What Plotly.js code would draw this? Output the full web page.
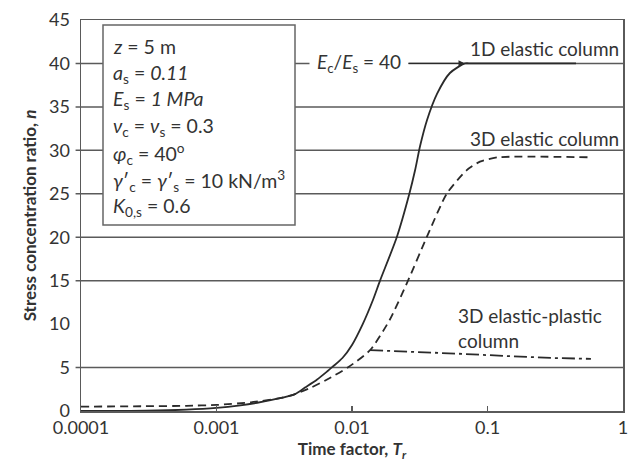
<!DOCTYPE html>
<html><head><meta charset="utf-8">
<script src="https://cdn.plot.ly/plotly-3.0.1.min.js"></script>
<style>html,body{margin:0;padding:0;background:#fff}</style>
</head><body><div id="chart" style="width:632px;height:468px"></div>
<script>
// 1D elastic column (solid)
const solidT = [0.0001, 0.0003, 0.0006, 0.001, 0.0015, 0.002, 0.003, 0.0038, 0.0045, 0.0055, 0.0065, 0.0072, 0.0085, 0.01, 0.012, 0.0143, 0.0161, 0.0214, 0.0265, 0.0292, 0.0318, 0.0358, 0.0424, 0.0528, 0.0682, 0.076, 0.45];
const solidN = [0.0, 0.03, 0.15, 0.35, 0.65, 0.95, 1.5, 1.95, 2.7, 3.6, 4.5, 5.1, 6.1, 7.6, 10.0, 12.8, 15, 20, 25, 27.7, 30.5, 33.5, 36.5, 38.9, 40, 40, 40];
// 3D elastic column (dashed)
const dashT = [0.0001, 0.0003, 0.0006, 0.001, 0.0018, 0.003, 0.0038, 0.005, 0.0065, 0.0093, 0.0136, 0.019, 0.0259, 0.0356, 0.05, 0.07, 0.088, 0.12, 0.57];
const dashN = [0.5, 0.55, 0.6, 0.7, 1.0, 1.5, 1.95, 2.7, 3.6, 5.0, 7.0, 10.5, 15, 20, 25, 27.7, 28.7, 29.2, 29.2];
// 3D elastic-plastic column (dash-dot)
const dotT = [0.0136, 0.03, 0.06, 0.15, 0.3, 0.58];
const dotN = [7.0, 6.8, 6.6, 6.3, 6.1, 6.0];

const xTickVals = [0.0001, 0.001, 0.01, 0.1, 1];
const xTickText = ['0.0001', '0.001', '0.01', '0.1', '1'];
const yTickVals = [0, 5, 10, 15, 20, 25, 30, 35, 40, 45];
const gridLevels = [5, 15, 20, 25, 30, 35, 40];

const boxLines = [
  '<i>z</i> = 5 m',
  '<i>a</i><sub>s</sub> = <i>0.11</i>',
  '<i>E</i><sub>s</sub> = <i>1 MPa</i>',
  '<i>ν</i><sub>c</sub> = <i>ν</i><sub>s</sub> = 0.3',
  '<i>φ</i><sub>c</sub> = 40<sup>o</sup>',
  '<i>γ</i>′<sub>c</sub> = <i>γ</i>′<sub>s</sub> = 10 kN/m<sup>3</sup>',
  '<i>K</i><sub>0,s</sub> = 0.6'
];

const FONT = 'Lato, "Open Sans", sans-serif';
const TXT = '#333';
const LINE = '#2a2a2a';
const GRID = '#5a5a5a';

const traces = [
  {x: solidT, y: solidN, mode: 'lines', line: {color: LINE, width: 1.8, shape: 'spline', smoothing: 0.7}, name: '1D'},
  {x: dashT, y: dashN, mode: 'lines', line: {color: LINE, width: 1.8, dash: '8px,5px', shape: 'spline', smoothing: 0.6}, name: '3D'},
  {x: dotT, y: dotN, mode: 'lines', line: {color: LINE, width: 1.8, dash: '13px,4px,3px,4px'}, name: '3D ep'}
];

const shapes = [];
gridLevels.forEach(v => shapes.push({type: 'line', xref: 'paper', yref: 'y', x0: -0.01, x1: 1, y0: v, y1: v, line: {color: GRID, width: 1.5}, layer: 'below'}));
// parameter box
const pxX = p => (p - 81) / 542;
const pxY = p => (411 - p) / 391;
shapes.push({type: 'rect', xref: 'paper', yref: 'paper', x0: pxX(103), x1: pxX(295), y0: pxY(225), y1: pxY(25), line: {color: '#666', width: 1.5}, fillcolor: '#fff', layer: 'below'});

const annotations = [];
boxLines.forEach((t, i) => annotations.push({xref: 'paper', yref: 'paper', x: pxX(111), y: pxY(47 + i * 26.7), xanchor: 'left', yanchor: 'middle', text: t, showarrow: false, font: {family: FONT, size: 19.5, color: TXT}}));

const idx40 = solidN.indexOf(40);
annotations.push({x: Math.log10(solidT[idx40]), y: solidN[idx40], xref: 'x', yref: 'y',
  text: '<i>E</i><sub>c</sub>/<i>E</i><sub>s</sub> = 40', showarrow: true, ax: -106, ay: 0,
  arrowhead: 2, arrowsize: 1, arrowwidth: 1.3, arrowcolor: LINE, standoff: 0,
  bgcolor: '#fff', borderpad: 7, font: {family: FONT, size: 19, color: TXT}});
annotations.push({xref: 'paper', yref: 'paper', x: pxX(621), y: pxY(48), xanchor: 'right', yanchor: 'middle', text: '1D elastic column', showarrow: false, font: {family: FONT, size: 19, color: TXT}});
annotations.push({xref: 'paper', yref: 'paper', x: pxX(621), y: pxY(138), xanchor: 'right', yanchor: 'middle', text: '3D elastic column', showarrow: false, font: {family: FONT, size: 19, color: TXT}});
annotations.push({xref: 'paper', yref: 'paper', x: pxX(456), y: pxY(328), xanchor: 'left', yanchor: 'middle', align: 'left', text: '3D elastic-plastic<br>column', showarrow: false, font: {family: FONT, size: 19, color: TXT}});

const layout = {
  width: 632, height: 468,
  margin: {l: 81, r: 9, t: 20, b: 57},
  paper_bgcolor: '#fff', plot_bgcolor: '#fff',
  showlegend: false,
  font: {family: FONT, color: TXT},
  xaxis: {type: 'log', range: [-4, 0], tickvals: xTickVals, ticktext: xTickText,
    ticks: 'inside', ticklen: 5, tickcolor: GRID, tickwidth: 1.5,
    showgrid: false, zeroline: false, showline: true, mirror: true, linecolor: GRID, linewidth: 1.5,
    tickfont: {family: FONT, size: 18, color: TXT},
    title: {text: '<b>Time factor, <i>T<sub>r</sub></i></b>', font: {family: FONT, size: 17, color: TXT}, standoff: 6}},
  yaxis: {range: [0, 45], tickvals: yTickVals, ticks: 'outside', ticklen: 6, tickcolor: 'rgba(0,0,0,0)',
    showgrid: false, zeroline: false, showline: true, mirror: true, linecolor: GRID, linewidth: 1.5,
    tickfont: {family: FONT, size: 18, color: TXT},
    title: {text: '<b>Stress concentration ratio, <i>n</i></b>', font: {family: FONT, size: 17, color: TXT}, standoff: 8}},
  shapes: shapes,
  annotations: annotations
};

Plotly.newPlot('chart', traces, layout, {displayModeBar: false, staticPlot: true});
</script></body></html>
